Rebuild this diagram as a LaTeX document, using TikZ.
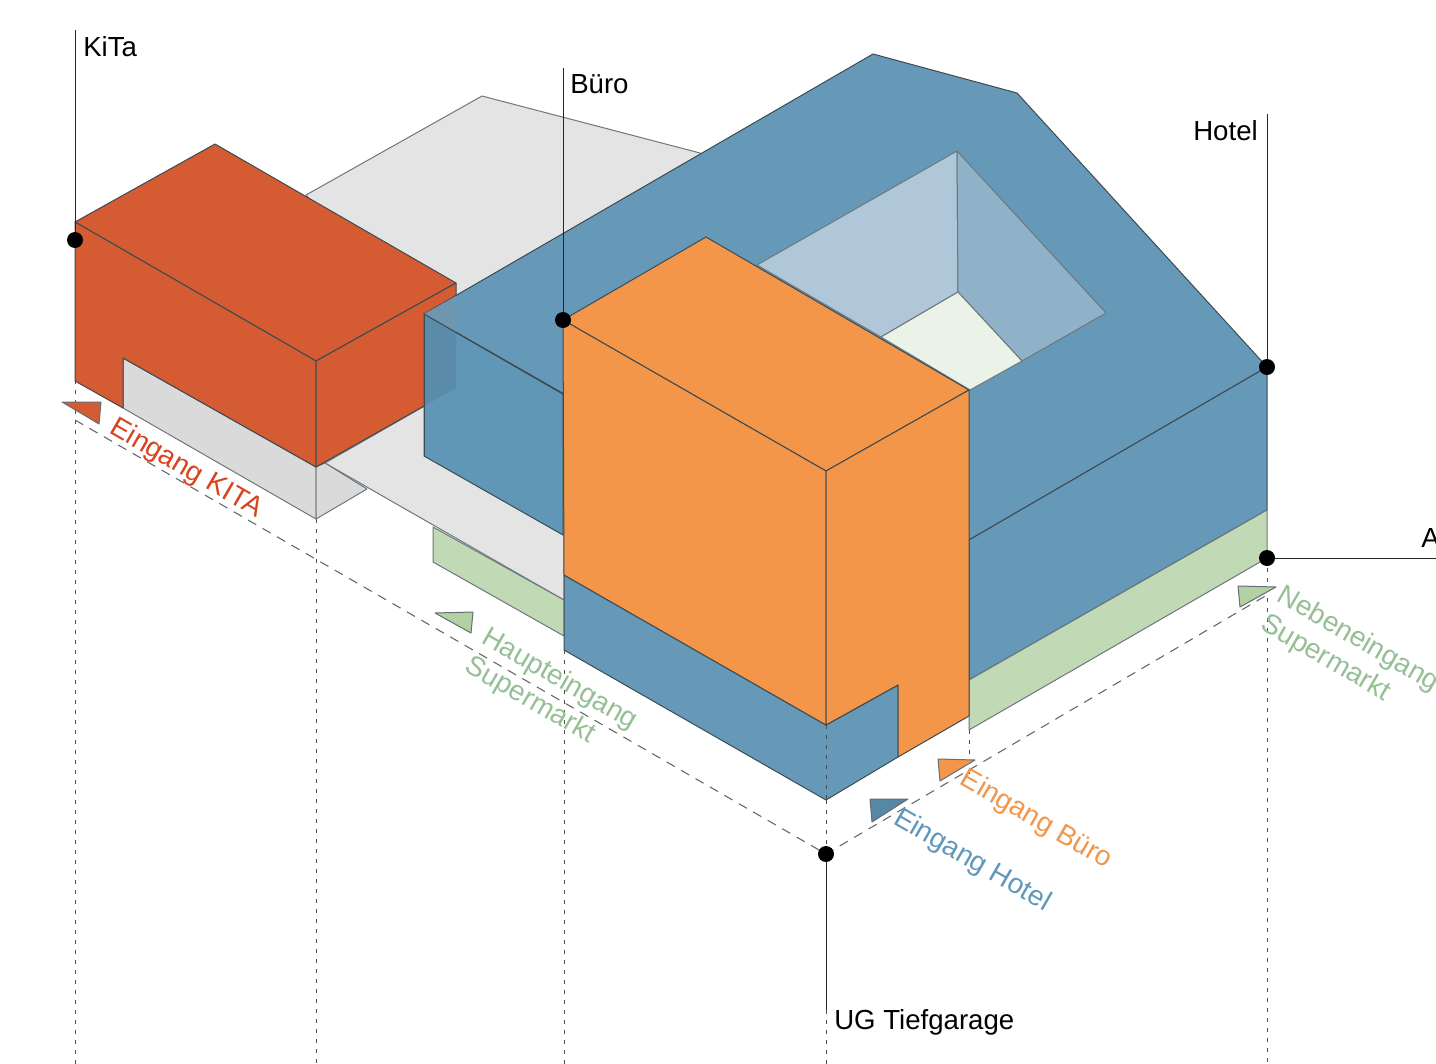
\documentclass[tikz,border=0pt]{standalone}
\usepackage{fontspec}
\setmainfont{Liberation Sans}
\definecolor{cblue}{HTML}{6699B8}
\definecolor{cblued}{HTML}{6096B6}
\definecolor{cbluet}{HTML}{6E96AE}
\definecolor{cbluef}{HTML}{5A8BA9}
\definecolor{corange}{HTML}{F49649}
\definecolor{cred}{HTML}{D55B32}
\definecolor{cgray}{HTML}{E4E4E4}
\definecolor{cgrayd}{HTML}{DADADA}
\definecolor{cgreen}{HTML}{C1D9B5}
\definecolor{cflag}{HTML}{B3D2A4}
\definecolor{cwalla}{HTML}{AFC7D8}
\definecolor{cwallb}{HTML}{8FB2C9}
\definecolor{cfloor}{HTML}{EBF3E8}
\definecolor{tred}{HTML}{D9431E}
\definecolor{tgreen}{HTML}{96BF96}
\definecolor{torange}{HTML}{F49649}
\definecolor{tblue}{HTML}{5F98BB}
\definecolor{edge}{HTML}{3C4A52}
\tikzset{
  x=0.75pt,y=-0.75pt,
  face/.style={draw=edge,line width=0.75pt,line join=round},
  softface/.style={draw=edge!75,line width=0.75pt,line join=round},
  leader/.style={draw=black!85,line width=0.7pt},
  dotted leader/.style={draw=black!70,line width=0.7pt,dash pattern=on 3pt off 4.5pt},
  base leader/.style={draw=black!60,line width=0.8pt,dash pattern=on 7pt off 5.5pt},
  dot/.style={circle,fill=black,inner sep=0pt,minimum size=12pt},
  lbl/.style={font=\fontsize{20.7pt}{24pt}\selectfont,text=black,inner sep=0pt},
  ilbl/.style={font=\fontsize{21pt}{24.5pt}\selectfont,rotate=-30,inner sep=0pt,align=left},
  flag/.style={draw=edge!80,line width=0.75pt,line join=round}
}
\begin{document}
\begin{tikzpicture}
\useasboundingbox (0,0) rectangle (1436,1064);
\clip (0,0) rectangle (1436,1064);
\fill[white] (0,0) rectangle (1436,1064);

% anchor coordinates
\coordinate (kitaTop) at (75,30);
\coordinate (bueroTop) at (563,68);
\coordinate (hotelTop) at (1267,114);
\coordinate (aEnd) at (1436,558);
\coordinate (ugEnd) at (826,1010);
\coordinate (ugBottom) at (826,1064);
\coordinate (b1) at (75,1064);
\coordinate (b2) at (316,1064);
\coordinate (b3) at (564,1064);
\coordinate (b4) at (1267,1064);
\coordinate (baseL) at (75,420);
\coordinate (baseR) at (1267,595);

% vertical and base dashes (behind the volumes)
\draw[dotted leader] (75,240) -- (b1);
\draw[dotted leader] (316,519) -- (b2);
\draw[dotted leader] (564,650) -- (b3);
\draw[dotted leader] (969,730) -- (969,780);
\draw[dotted leader] (1267,558) -- (b4);
\draw[dotted leader] (826,800) -- (826,854);
\draw[dotted leader] (ugEnd) -- (ugBottom);
\draw[base leader] (baseL) -- (826,854) -- (baseR);

% grey plate
\draw[softface,fill=cgray] (306,195) -- (482,96) -- (700,153) -- (700,300) -- (564,400) -- (564,600) -- (325,463) -- (456,388) -- cycle;
% green plinth left
\draw[softface,fill=cgreen] (433,527) -- (433,562) -- (564,636) -- (564,600) -- cycle;
% KiTa
\draw[softface,fill=cgrayd] (123,358) -- (316,467) -- (316,519) -- (123,408) -- cycle;
\draw[softface,fill=cgrayd] (316,467) -- (325,463) -- (367,489) -- (316,519) -- cycle;
\draw[face,fill=cred] (75,222) -- (215,144) -- (456,283) -- (316,361) -- cycle;
\draw[face,fill=cred] (75,222) -- (316,361) -- (316,467) -- (123,358) -- (123,408) -- (75,381) -- cycle;
\draw[face,fill=cred] (316,361) -- (456,283) -- (456,388) -- (316,467) -- cycle;
% Hotel body
\draw[face,fill=cblue] (424,314) -- (873,54) -- (1017,93) -- (1267,367) -- (969,540) -- (564,394) -- cycle;
\draw[face,fill=cblued] (424,314) -- (563,394) -- (563,535) -- (424,456) -- cycle;
\fill[cbluet] (424,314) -- (456,296) -- (456,332) -- cycle;
\fill[cbluef] (424,314) -- (456,332) -- (456,388) -- (424,406) -- cycle;
\draw[face] (424,314) -- (563,394);
\draw[face] (424,314) -- (424,456);
\draw[face,fill=cblue] (969,540) -- (1267,367) -- (1267,510) -- (969,680) -- cycle;
\draw[softface,fill=cgreen] (969,680) -- (1267,510) -- (1267,558) -- (969,730) -- cycle;
% courtyard
\draw[softface,fill=cwalla] (757,265) -- (957,151) -- (958,292) -- (881,337) -- cycle;
\draw[softface,fill=cwallb] (957,151) -- (1106,313) -- (1022,361) -- (958,292) -- cycle;
\draw[softface,fill=cfloor] (958,292) -- (1022,361) -- (970,390) -- (881,337) -- cycle;
% Hotel front lower
\draw[face,fill=cblue] (564,575) -- (826,725) -- (898,685) -- (898,757) -- (826,800) -- (564,650) -- cycle;
% Büro tower
\draw[face,fill=corange] (563,320) -- (706,237) -- (969,390) -- (826,471) -- cycle;
\draw[face,fill=corange] (563,320) -- (826,471) -- (826,725) -- (564,575) -- cycle;
\draw[face,fill=corange] (826,471) -- (969,390) -- (969,716) -- (898,757) -- (898,685) -- (826,725) -- cycle;
\draw[dotted leader] (826,725) -- (826,800);

% flags
\draw[flag,fill=cred] (62,402) -- (101,402) -- (99,424) -- cycle;
\draw[flag,fill=cflag] (435,613) -- (473,612) -- (471,633) -- cycle;
\draw[flag,fill=corange] (938,759) -- (975,760) -- (940,781) -- cycle;
\draw[flag,fill=cblued!90!black] (870,799) -- (908,799) -- (872,822) -- cycle;
\draw[flag,fill=cflag] (1238,586) -- (1276,587) -- (1240,607) -- cycle;

% dots
\node[dot] (dKita) at (75,240) {};
\node[dot] (dBuero) at (563,320) {};
\node[dot] (dHotel) at (1267,367) {};
\node[dot] (dA) at (1267,558) {};
\node[dot] (dUG) at (826,854) {};

% leaders
\draw[leader] (kitaTop) -- (dKita);
\draw[leader] (bueroTop) -- (dBuero);
\draw[leader] (hotelTop) -- (dHotel);
\draw[leader] (dA) -- (aEnd);
\draw[leader] (dUG) -- (ugEnd);

% labels
\node[lbl,anchor=west] (lKita) at (83,47) {KiTa};
\node[lbl,anchor=west] (lBuero) at (570,84) {Büro};
\node[lbl,anchor=east] (lHotel) at (1258,131) {Hotel};
\node[lbl,anchor=west] (lA) at (1421,538) {A};
\node[lbl,anchor=west] (lUG) at (834,1022) {UG Tiefgarage};

\node[ilbl,text=tred] (iKita) at (186,469) {Eingang KITA};
\node[ilbl,text=tgreen] (iHaupt) at (551,694) {Haupteingang\\Supermarkt};
\node[ilbl,text=torange] (iBuero) at (1036,820) {Eingang Büro};
\node[ilbl,text=tblue] (iHotel) at (972,861) {Eingang Hotel};
\node[ilbl,text=tgreen] (iNeben) at (1350,654) {Nebeneingang\\Supermarkt};
\end{tikzpicture}
\end{document}
